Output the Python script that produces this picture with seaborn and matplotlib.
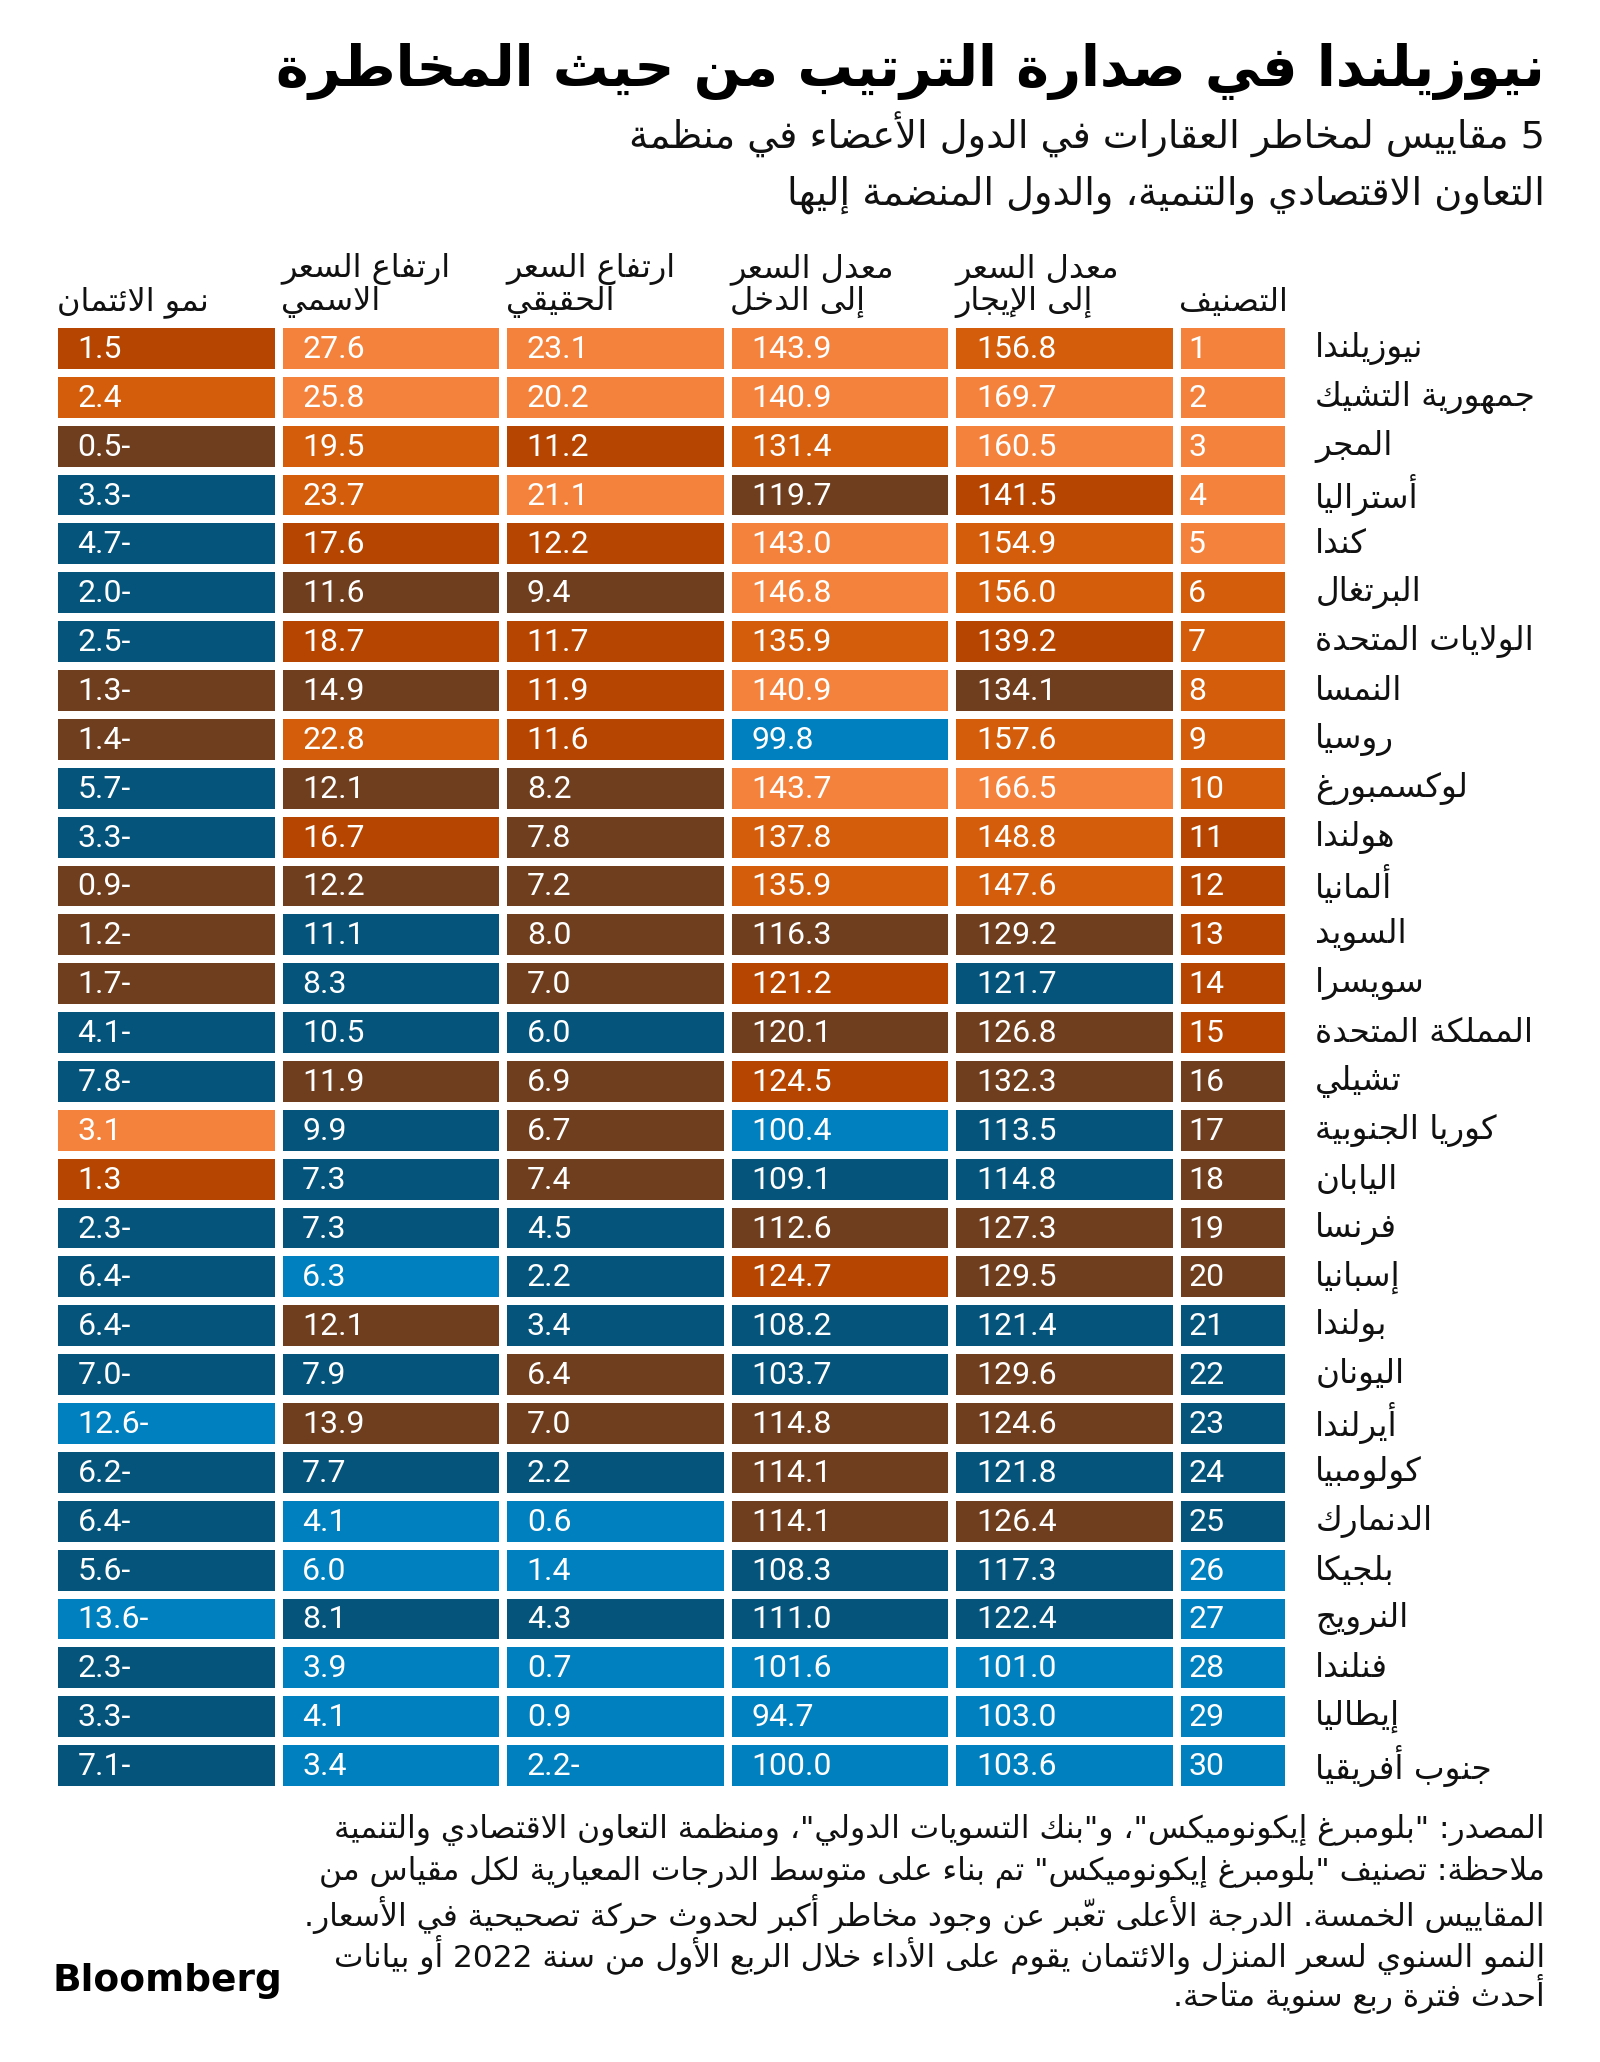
import re
import numpy as np
import pandas as pd
import seaborn as sns
import matplotlib.pyplot as plt
from matplotlib.colors import ListedColormap

# ---------------- data ----------------
countries = ['نيوزيلندا', 'جمهورية التشيك', 'المجر', 'أستراليا', 'كندا', 'البرتغال',
             'الولايات المتحدة', 'النمسا', 'روسيا', 'لوكسمبورغ', 'هولندا', 'ألمانيا',
             'السويد', 'سويسرا', 'المملكة المتحدة', 'تشيلي', 'كوريا الجنوبية', 'اليابان',
             'فرنسا', 'إسبانيا', 'بولندا', 'اليونان', 'أيرلندا', 'كولومبيا', 'الدنمارك',
             'بلجيكا', 'النرويج', 'فنلندا', 'إيطاليا', 'جنوب أفريقيا']
rank = list(range(1, 31))
price_to_rent = [156.8, 169.7, 160.5, 141.5, 154.9, 156.0, 139.2, 134.1, 157.6, 166.5,
                 148.8, 147.6, 129.2, 121.7, 126.8, 132.3, 113.5, 114.8, 127.3, 129.5,
                 121.4, 129.6, 124.6, 121.8, 126.4, 117.3, 122.4, 101.0, 103.0, 103.6]
price_to_income = [143.9, 140.9, 131.4, 119.7, 143.0, 146.8, 135.9, 140.9, 99.8, 143.7,
                   137.8, 135.9, 116.3, 121.2, 120.1, 124.5, 100.4, 109.1, 112.6, 124.7,
                   108.2, 103.7, 114.8, 114.1, 114.1, 108.3, 111.0, 101.6, 94.7, 100.0]
real_growth = [23.1, 20.2, 11.2, 21.1, 12.2, 9.4, 11.7, 11.9, 11.6, 8.2,
               7.8, 7.2, 8.0, 7.0, 6.0, 6.9, 6.7, 7.4, 4.5, 2.2,
               3.4, 6.4, 7.0, 2.2, 0.6, 1.4, 4.3, 0.7, 0.9, -2.2]
nominal_growth = [27.6, 25.8, 19.5, 23.7, 17.6, 11.6, 18.7, 14.9, 22.8, 12.1,
                  16.7, 12.2, 11.1, 8.3, 10.5, 11.9, 9.9, 7.3, 7.3, 6.3,
                  12.1, 7.9, 13.9, 7.7, 4.1, 6.0, 8.1, 3.9, 4.1, 3.4]
credit_growth = [1.5, 2.4, -0.5, -3.3, -4.7, -2.0, -2.5, -1.3, -1.4, -5.7,
                 -3.3, -0.9, -1.2, -1.7, -4.1, -7.8, 3.1, 1.3, -2.3, -6.4,
                 -6.4, -7.0, -12.6, -6.2, -6.4, -5.6, -13.6, -2.3, -3.3, -7.1]

# column order left -> right as in the picture
columns = ['credit', 'nominal', 'real', 'income', 'rent']
headers = {
    'credit': ['نمو الائتمان'],
    'nominal': ['ارتفاع السعر', 'الاسمي'],
    'real': ['ارتفاع السعر', 'الحقيقي'],
    'income': ['معدل السعر', 'إلى الدخل'],
    'rent': ['معدل السعر', 'إلى الإيجار'],
}
rank_header = 'التصنيف'
# colour-band thresholds per measure (high risk -> low risk)
bands = {
    'rent': [160, 145, 136, 123, 110],
    'income': [140, 128, 121, 112, 102],
    'real': [15, 13, 10, 6.2, 2],
    'nominal': [25, 19, 15, 11.5, 7],
    'credit': [3, 2, 1, -1.9, -10],
}
palette = ['#F4823C', '#D35D0B', '#B54500', '#6E3E1E', '#04547C', '#0080BE']

title = 'نيوزيلندا في صدارة الترتيب من حيث المخاطرة'
subtitle = ['5 مقاييس لمخاطر العقارات في الدول الأعضاء في منظمة',
            'التعاون الاقتصادي والتنمية، والدول المنضمة إليها']
footer = ['المصدر: "بلومبرغ إيكونوميكس"، و"بنك التسويات الدولي"، ومنظمة التعاون الاقتصادي والتنمية',
          'ملاحظة: تصنيف "بلومبرغ إيكونوميكس" تم بناء على متوسط الدرجات المعيارية لكل مقياس من',
          'المقاييس الخمسة. الدرجة الأعلى تعبّر عن وجود مخاطر أكبر لحدوث حركة تصحيحية في الأسعار.',
          'النمو السنوي لسعر المنزل والائتمان يقوم على الأداء خلال الربع الأول من سنة 2022 أو بيانات',
          'أحدث فترة ربع سنوية متاحة.']

# ---------------- arabic shaping (matplotlib does no shaping / bidi) ----------------
_letters = [('ء', 0xFE80, 1), ('آ', 0xFE81, 2), ('أ', 0xFE83, 2), ('ؤ', 0xFE85, 2),
            ('إ', 0xFE87, 2), ('ئ', 0xFE89, 4), ('ا', 0xFE8D, 2), ('ب', 0xFE8F, 4),
            ('ة', 0xFE93, 2), ('ت', 0xFE95, 4), ('ث', 0xFE99, 4), ('ج', 0xFE9D, 4),
            ('ح', 0xFEA1, 4), ('خ', 0xFEA5, 4), ('د', 0xFEA9, 2), ('ذ', 0xFEAB, 2),
            ('ر', 0xFEAD, 2), ('ز', 0xFEAF, 2), ('س', 0xFEB1, 4), ('ش', 0xFEB5, 4),
            ('ص', 0xFEB9, 4), ('ض', 0xFEBD, 4), ('ط', 0xFEC1, 4), ('ظ', 0xFEC5, 4),
            ('ع', 0xFEC9, 4), ('غ', 0xFECD, 4), ('ف', 0xFED1, 4), ('ق', 0xFED5, 4),
            ('ك', 0xFED9, 4), ('ل', 0xFEDD, 4), ('م', 0xFEE1, 4), ('ن', 0xFEE5, 4),
            ('ه', 0xFEE9, 4), ('و', 0xFEED, 2), ('ى', 0xFEEF, 2), ('ي', 0xFEF1, 4)]
FORMS = {}
for ch, b, n in _letters:
    if n == 1:
        FORMS[ch] = (b, b, b, b)
    elif n == 2:
        FORMS[ch] = (b, b + 1, b, b + 1)
    else:
        FORMS[ch] = (b, b + 1, b + 2, b + 3)
DUAL = {ch for ch, b, n in _letters if n == 4}
LAM_ALEF = {'آ': 0xFEF5, 'أ': 0xFEF7, 'إ': 0xFEF9, 'ا': 0xFEFB}
MARKS = {chr(c) for c in range(0x064B, 0x0653)}


def ar(text):
    chars = list(text)
    items = []
    i = 0
    while i < len(chars):
        c = chars[i]
        if c in MARKS and items:
            items[-1][2] += c
            i += 1
            continue
        if c == 'ل' and i + 1 < len(chars) and chars[i + 1] in LAM_ALEF:
            items.append(['LA', chars[i + 1], ''])
            i += 2
            continue
        items.append(['C', c, ''])
        i += 1

    def can_join_next(it):
        return it[0] == 'C' and it[1] in DUAL

    def can_join_prev(it):
        return it[0] == 'LA' or (it[1] in FORMS and it[1] != 'ء')

    glyphs = []
    for k, it in enumerate(items):
        prev = items[k - 1] if k > 0 else None
        nxt = items[k + 1] if k + 1 < len(items) else None
        jp = prev is not None and can_join_next(prev) and can_join_prev(it)
        if it[0] == 'LA':
            g = chr(LAM_ALEF[it[1]] + (1 if jp else 0))
        elif it[1] in FORMS:
            jn = can_join_next(it) and nxt is not None and can_join_prev(nxt)
            idx = 3 if (jp and jn) else 1 if jp else 2 if jn else 0
            g = chr(FORMS[it[1]][idx])
        else:
            g = it[1]
        glyphs.append(g + it[2])

    # visual order: reverse, but keep runs of digits / latin letters as they are
    tokens = []
    for g in glyphs:
        if re.fullmatch(r'[0-9A-Za-z]', g):
            if tokens and tokens[-1][0] == 'L':
                tokens[-1][1] += g
            else:
                tokens.append(['L', g])
        else:
            tokens.append(['R', g])
    return ''.join(t[1] for t in reversed(tokens))


def fmt(v):
    return f'{abs(v):.1f}-' if v < 0 else f'{v:.1f}'


# ---------------- table ----------------
df = pd.DataFrame({'country': countries, 'rank': rank, 'rent': price_to_rent,
                   'income': price_to_income, 'real': real_growth,
                   'nominal': nominal_growth, 'credit': credit_growth})

cls = pd.DataFrame({c: [sum(v < t for t in bands[c]) for v in df[c]] for c in columns})
rank_cls = pd.DataFrame({'rank': (df['rank'] - 1) // 5})

sns.set_theme(style='white')
plt.rcParams['font.family'] = ['DejaVu Sans']
num_font = ['Roboto', 'DejaVu Sans']

W, H = 1600, 2062
fig = plt.figure(figsize=(W / 100, H / 100), dpi=100)
fig.patch.set_facecolor('white')

top, bottom = 324, 1790
ax = fig.add_axes([54 / W, 1 - bottom / H, 1123 / W, (bottom - top) / H])
axr = fig.add_axes([1177 / W, 1 - bottom / H, 111.5 / W, (bottom - top) / H])

cmap = ListedColormap(palette)
sns.heatmap(cls, ax=ax, cmap=cmap, vmin=-0.5, vmax=5.5, cbar=False,
            linewidths=4.5, linecolor='white', xticklabels=False, yticklabels=False)
sns.heatmap(rank_cls, ax=axr, cmap=cmap, vmin=-0.5, vmax=5.5, cbar=False,
            linewidths=4.5, linecolor='white', xticklabels=False, yticklabels=False)

for j, c in enumerate(columns):
    for i, v in enumerate(df[c]):
        ax.text(j + 0.105, i + 0.52, fmt(v), color='white', fontsize=23,
                family=num_font, va='center', ha='left')
    lines = headers[c]
    ys = [-0.45] if len(lines) == 1 else [-1.12, -0.45]
    for y, line in zip(ys, lines):
        ax.text(j + 0.012, y, ar(line), fontsize=23, va='center', ha='left',
                color='#111111', clip_on=False)

for i, r in enumerate(df['rank']):
    axr.text(0.1, i + 0.52, str(r), color='white', fontsize=23,
             family=num_font, va='center', ha='left')
    axr.text(1.24, i + 0.5, ar(df['country'][i]), color='#111111', fontsize=23.5,
             va='center', ha='left', clip_on=False)
axr.text(0.02, -0.45, ar(rank_header), fontsize=23, va='center', ha='left',
         color='#111111', clip_on=False)

# ---------------- titles and notes ----------------
fig.text(1545 / W, 1 - 72 / H, ar(title), fontsize=40, fontweight='bold',
         ha='right', va='center', color='black')
for y, line in zip([135, 195], subtitle):
    fig.text(1545 / W, 1 - y / H, ar(line), fontsize=27.5, ha='right', va='center',
             color='#111111')
for y, line in zip([1830, 1872, 1914, 1955, 1994], footer):
    fig.text(1545 / W, 1 - y / H, ar(line), fontsize=22.5, ha='right', va='center',
             color='#111111')
fig.text(53 / W, 1 - 1981 / H, 'Bloomberg', fontsize=27, fontweight='bold',
         ha='left', va='center', color='black')

fig.savefig('out.png', dpi=100, facecolor='white')
